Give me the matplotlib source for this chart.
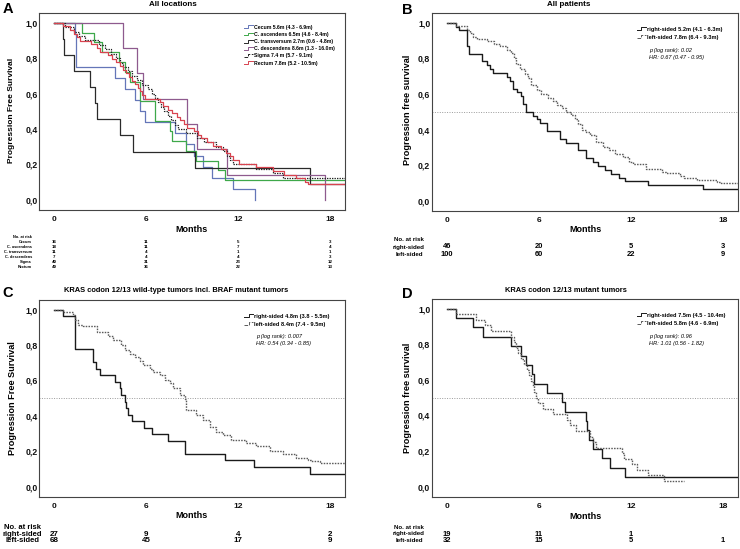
import matplotlib
matplotlib.use('Agg')
import matplotlib.pyplot as plt
from matplotlib import transforms
from matplotlib.lines import Line2D
from matplotlib.legend_handler import HandlerBase

plt.rcParams['font.family'] = ['Liberation Sans', 'DejaVu Sans']
plt.rcParams['font.weight'] = 'bold'

W, H = 740, 549

month_ticks = [0, 6, 12, 18]
surv_ticks = [0.0, 0.2, 0.4, 0.6, 0.8, 1.0]
surv_ticklabels = ['0,0', '0,2', '0,4', '0,6', '0,8', '1,0']

# ---------- A: all locations ----------
cecum_t = [0, 1.35, 1.45, 3.95, 4.6, 5.25, 5.6, 5.9, 7.9, 8.6, 9.1, 9.7, 10.3, 11.7, 13.1]
cecum_s = [1.0, 0.938, 0.75, 0.688, 0.625, 0.563, 0.5, 0.438, 0.375, 0.313, 0.25, 0.188, 0.125, 0.063, 0.0]
cecum_end = 13.1

asc_t = [0, 1.8, 2.6, 3.1, 4.2, 4.6, 4.95, 5.6, 6.55, 7.55, 7.7, 8.6, 9.25, 10.7, 11.15]
asc_s = [1.0, 0.944, 0.889, 0.833, 0.778, 0.722, 0.667, 0.556, 0.444, 0.389, 0.333, 0.278, 0.222, 0.167, 0.111]
asc_end = 19.5

trans_t = [0, 0.6, 0.65, 1.3, 2.35, 2.65, 2.8, 4.3, 5.15, 9.2, 16.7]
trans_s = [1.0, 0.909, 0.818, 0.727, 0.636, 0.545, 0.455, 0.364, 0.273, 0.182, 0.091]
trans_end = 19.5

desc_t = [0, 4.46, 5.42, 5.77, 8.65, 9.35, 11.3, 17.7]
desc_s = [1.0, 0.857, 0.714, 0.571, 0.429, 0.286, 0.143, 0.0]
desc_end = 17.7

sigma_t = [0, 0.7, 1.3, 1.6, 2.0, 2.9, 3.3, 3.7, 4.0, 4.3, 4.5, 4.8, 5.1, 5.4, 5.7, 6.1,
           6.4, 6.6, 6.8, 7.0, 7.2, 7.4, 7.6, 7.9, 8.1, 8.6, 9.3, 9.8, 10.6, 11.0, 11.3,
           11.5, 11.7, 13.2, 14.3, 14.95]
sigma_s = [1.0, 0.975, 0.95, 0.925, 0.9, 0.875, 0.85, 0.825, 0.8, 0.775, 0.75, 0.725, 0.7,
           0.675, 0.65, 0.625, 0.6, 0.575, 0.55, 0.525, 0.5, 0.475, 0.45, 0.425, 0.4, 0.375,
           0.35, 0.325, 0.3, 0.275, 0.25, 0.225, 0.2, 0.175, 0.15, 0.125]
sigma_end = 19.5

rect_t = [0, 0.6, 1.0, 1.3, 1.5, 1.7, 2.4, 2.8, 3.0, 3.5, 3.8, 4.0, 4.3, 4.5, 4.7, 4.9, 5.1,
          5.3, 5.5, 5.6, 5.7, 5.9, 6.9, 7.1, 7.4, 7.7, 8.0, 8.2, 8.5, 8.7, 9.1, 9.4, 9.6,
          10.0, 10.4, 10.9, 11.2, 11.5, 11.7, 12.1, 13.2, 14.3, 15.0, 15.8, 16.4, 16.6]
rect_s = [1.0, 0.98, 0.959, 0.939, 0.918, 0.898, 0.878, 0.857, 0.837, 0.816, 0.796, 0.776,
          0.755, 0.735, 0.714, 0.694, 0.673, 0.653, 0.633, 0.612, 0.592, 0.571, 0.551, 0.531,
          0.51, 0.49, 0.469, 0.449, 0.429, 0.408, 0.388, 0.367, 0.347, 0.327, 0.306, 0.286,
          0.265, 0.245, 0.224, 0.204, 0.184, 0.163, 0.143, 0.122, 0.102, 0.092]
rect_end = 19.5

loc_names = ['Cecum', 'C. ascendens', 'C. transversum', 'C. descendens', 'Sigma', 'Rectum']
loc_labels = ['Cecum 5.6m (4.3 - 6.9m)', 'C. ascendens 6.5m (4.6 - 8.4m)',
              'C. transversum 2.7m (0.6 - 4.8m)', 'C. descendens 8.6m (1.3 - 16.0m)',
              'Sigma 7.4 m (5.7 - 9.1m)', 'Rectum 7.8m (5.2 - 10.5m)']
loc_risk = [[16, 11, 5, 3], [18, 11, 7, 4], [11, 4, 1, 1], [7, 4, 4, 3],
            [40, 31, 23, 12], [49, 36, 22, 13]]

# ---------- B: all patients ----------
b_right_t = [0, 0.6, 0.75, 1.3, 1.45, 2.3, 2.6, 2.8, 3.0, 3.9, 4.1, 4.3, 4.6, 4.8, 4.95, 5.15,
             5.6, 5.85, 6.1, 6.5, 7.4, 7.75, 8.55, 9.05, 9.5, 9.85, 10.3, 10.7, 11.2, 11.65,
             13.1, 16.7]
b_right_s = [1.0, 0.978, 0.957, 0.87, 0.826, 0.783, 0.761, 0.739, 0.717, 0.696, 0.674, 0.63,
             0.609, 0.587, 0.543, 0.5, 0.478, 0.457, 0.435, 0.391, 0.348, 0.326, 0.283, 0.239,
             0.217, 0.196, 0.174, 0.152, 0.13, 0.109, 0.087, 0.065]
b_left_t = [0, 0.6, 1.3, 1.5, 1.7, 1.95, 2.6, 3.05, 3.45, 3.9, 4.2, 4.4, 4.5, 4.75, 5.1, 5.3,
            5.5, 5.85, 6.15, 6.6, 6.95, 7.2, 7.5, 7.75, 8.1, 8.35, 8.55, 8.8, 9.1, 9.35, 9.75,
            10.2, 10.6, 11.0, 11.5, 11.9, 12.15, 13.0, 14.05, 14.3, 15.2, 15.5, 16.3, 17.6, 17.9]
b_left_s = [1.0, 0.98, 0.96, 0.94, 0.92, 0.91, 0.9, 0.88, 0.87, 0.85, 0.83, 0.8, 0.77, 0.74,
            0.71, 0.69, 0.65, 0.62, 0.6, 0.58, 0.56, 0.54, 0.52, 0.5, 0.48, 0.46, 0.43, 0.4,
            0.385, 0.37, 0.33, 0.3, 0.285, 0.265, 0.245, 0.22, 0.205, 0.18, 0.163, 0.155, 0.14,
            0.13, 0.116, 0.107, 0.1]
b_labels = ['right-sided 5.2m (4.1 - 6.3m)', 'left-sided 7.8m (6.4 - 9.3m)']
b_stats = ['p (log rank): 0.02', 'HR: 0.67 (0.47 - 0.95)']
b_risk = [[46, 20, 5, 3], [100, 60, 22, 9]]

# ---------- C: KRAS wild-type ----------
c_right_t = [0, 0.6, 1.35, 2.55, 2.7, 3.0, 3.95, 4.3, 4.35, 4.6, 4.7, 4.82, 5.05, 5.85, 6.4,
             7.4, 8.55, 11.15, 13.05, 16.7]
c_right_s = [1.0, 0.963, 0.778, 0.704, 0.667, 0.63, 0.593, 0.556, 0.519, 0.481, 0.444, 0.407,
             0.37, 0.333, 0.296, 0.259, 0.185, 0.148, 0.111, 0.074]
c_left_t = [0, 0.6, 1.25, 1.35, 1.57, 1.9, 2.76, 3.5, 3.85, 4.35, 4.6, 4.94, 5.27, 5.6, 5.81,
            6.25, 6.47, 6.9, 7.23, 7.55, 7.77, 8.2, 8.53, 8.64, 9.29, 9.73, 10.16, 10.6, 11.03,
            11.58, 12.56, 13.2, 14.08, 14.95, 15.82, 16.58, 16.8, 17.34]
c_left_s = [1.0, 0.985, 0.97, 0.94, 0.916, 0.906, 0.873, 0.853, 0.83, 0.8, 0.77, 0.75, 0.73,
            0.71, 0.685, 0.665, 0.648, 0.63, 0.6, 0.583, 0.555, 0.517, 0.498, 0.433, 0.404,
            0.376, 0.339, 0.311, 0.292, 0.264, 0.249, 0.227, 0.204, 0.185, 0.161, 0.152, 0.142,
            0.135]
c_labels = ['right-sided 4.8m (3.8 - 5.5m)', 'left-sided 8.4m (7.4 - 9.5m)']
c_stats = ['p (log rank): 0.007', 'HR: 0.54 (0.34 - 0.85)']
c_risk = [[27, 9, 4, 2], [68, 45, 17, 9]]

# ---------- D: KRAS mutant ----------
d_right_t = [0, 0.6, 1.7, 2.35, 4.2, 4.85, 5.15, 5.55, 5.65, 6.5, 7.5, 7.7, 9.1, 9.15, 9.3,
             9.55, 10.15, 10.65, 11.6]
d_right_s = [1.0, 0.947, 0.895, 0.842, 0.789, 0.737, 0.684, 0.632, 0.579, 0.526, 0.474, 0.421,
             0.368, 0.316, 0.263, 0.211, 0.158, 0.105, 0.053]
d_left_t = [0, 0.6, 1.9, 2.45, 2.9, 4.2, 4.35, 4.5, 4.65, 4.85, 5.05, 5.2, 5.35, 5.5, 5.6, 5.7,
            5.8, 5.95, 6.3, 6.95, 7.85, 8.0, 8.4, 9.35, 9.5, 9.7, 11.4, 11.55, 12.1, 12.4,
            13.1, 14.2]
d_left_s = [1.0, 0.969, 0.938, 0.906, 0.875, 0.844, 0.813, 0.781, 0.75, 0.719, 0.688, 0.656,
            0.625, 0.594, 0.563, 0.531, 0.5, 0.469, 0.438, 0.406, 0.375, 0.344, 0.313, 0.281,
            0.25, 0.219, 0.188, 0.156, 0.125, 0.094, 0.063, 0.031]
d_left_end = 15.5
d_labels = ['right-sided 7.5m (4.5 - 10.4m)', 'left-sided 5.8m (4.6 - 6.9m)']
d_stats = ['p (log rank): 0.96', 'HR: 1.01 (0.56 - 1.82)']
d_risk = [[19, 11, 1], [32, 15, 5, 1]]

side_names = ['right-sided', 'left-sided']

DOTS = (0, (1.1, 0.9))   # fine SPSS-like dotted line


def fx(px):
    return px / W


def fy(py):
    return 1 - py / H


class StepHandle(HandlerBase):
    # small step glyph like the SPSS legend
    def create_artists(self, legend, orig_handle, xdescent, ydescent, width, height,
                       fontsize, trans):
        x0, y0 = -xdescent, -ydescent
        xm = x0 + 0.5 * width
        ln = Line2D([x0, xm, xm, x0 + width],
                    [y0 + 0.15 * height, y0 + 0.15 * height, y0 + 0.95 * height, y0 + 0.95 * height],
                    color=orig_handle.get_color(), linestyle=orig_handle.get_linestyle(),
                    linewidth=0.7, transform=trans)
        return [ln]


def km(ax, t, s, end, **kw):
    return ax.step(list(t) + [end], list(s) + [s[-1]], where='post', **kw)[0]


def setup(ax):
    ax.set_xlim(-1, 19)
    ax.set_ylim(-0.057, 1.055)
    ax.set_xticks(month_ticks)
    ax.set_yticks(surv_ticks)
    ax.set_yticklabels(surv_ticklabels)
    ax.tick_params(axis='y', length=0, pad=1.0, labelsize=6.3, colors='#111111')
    ax.tick_params(axis='x', length=0, pad=4.5, labelsize=6, colors='#111111')
    for sp in ax.spines.values():
        sp.set_color('#444444')
        sp.set_linewidth(0.8)


def at_risk(fig, ax, names, rows, label_x, label_ha, ys, lab_size, val_size):
    tr = transforms.blended_transform_factory(ax.transData, fig.transFigure)
    fig.text(fx(label_x), fy(ys[0]), 'No. at risk', ha=label_ha, va='center', fontsize=lab_size)
    for name, row, y in zip(names, rows, ys[1:]):
        fig.text(fx(label_x), fy(y), name, ha=label_ha, va='center', fontsize=lab_size)
        for m, n in zip(month_ticks, row):
            ax.text(m, fy(y), str(n), transform=tr, ha='center', va='center', fontsize=val_size)


fig = plt.figure(figsize=(7.4, 5.49), dpi=100)

axA = fig.add_axes([fx(39), fy(210), fx(306), 197 / H])
axB = fig.add_axes([fx(431.7), fy(211), fx(306.3), 198 / H])
axC = fig.add_axes([fx(39), fy(496.7), fx(306), 196.7 / H])
axD = fig.add_axes([fx(431.7), fy(496.7), fx(306.3), 197.7 / H])
for ax in (axA, axB, axC, axD):
    setup(ax)

solid_kw = dict(color='#1a1a1a', lw=1.0)
dot_kw = dict(color='#5a5a5a', lw=1.0, linestyle=DOTS)

# --- panel A
hA = [
    km(axA, cecum_t, cecum_s, cecum_end, color='#6476b8', lw=0.9),
    km(axA, asc_t, asc_s, asc_end, color='#3ea84a', lw=0.9),
    km(axA, trans_t, trans_s, trans_end, color='#2a2a2a', lw=0.9),
    km(axA, desc_t, desc_s, desc_end, color='#8e5a8e', lw=0.9),
    km(axA, sigma_t, sigma_s, sigma_end, color='#222222', lw=0.9, linestyle=DOTS),
    km(axA, rect_t, rect_s, rect_end, color='#d8434f', lw=0.9),
]
axA.legend(hA, loc_labels, loc='upper left', bbox_to_anchor=(0.67, 0.94), frameon=False,
           fontsize=3.7, handlelength=1.7, handletextpad=0.15, labelspacing=0.42,
           borderpad=0, borderaxespad=0, handler_map={Line2D: StepHandle()})

# --- panels B, C, D
for ax, rt, rs, lt, ls, lend, labels, stats in [
        (axB, b_right_t, b_right_s, b_left_t, b_left_s, 19.5, b_labels, b_stats),
        (axC, c_right_t, c_right_s, c_left_t, c_left_s, 19.5, c_labels, c_stats),
        (axD, d_right_t, d_right_s, d_left_t, d_left_s, d_left_end, d_labels, d_stats)]:
    ax.axhline(0.5, color='#9a9a9a', lw=0.7, linestyle=(0, (1, 1.5)))
    h1 = km(ax, rt, rs, 19.5, **solid_kw)
    h2 = km(ax, lt, ls, lend, **dot_kw)
    ax.legend([h1, h2], labels, loc='upper left', bbox_to_anchor=(0.67, 0.93), frameon=False,
              fontsize=4.1, handlelength=1.6, handletextpad=0.1, labelspacing=0.55,
              borderpad=0, borderaxespad=0, handler_map={Line2D: StepHandle()})
    ax.text(0.71, 0.812, stats[0], transform=ax.transAxes, fontsize=4.1, style='italic',
            weight='normal', va='center')
    ax.text(0.71, 0.777, stats[1], transform=ax.transAxes, fontsize=4.1, style='italic',
            weight='normal', va='center')

# --- titles, letters, axis labels
fig.text(fx(8), fy(9), 'A', fontsize=10.5, ha='center', va='center')
fig.text(fx(407), fy(9.5), 'B', fontsize=10.5, ha='center', va='center')
fig.text(fx(8), fy(293), 'C', fontsize=10.5, ha='center', va='center')
fig.text(fx(407), fy(294.5), 'D', fontsize=10.5, ha='center', va='center')

fig.text(fx(173), fy(5), 'All locations', fontsize=5.8, ha='center', va='center')
fig.text(fx(569), fy(5), 'All patients', fontsize=5.8, ha='center', va='center')
fig.text(fx(176.5), fy(290), 'KRAS codon 12/13 wild-type tumors incl. BRAF mutant tumors',
         fontsize=5.4, ha='center', va='center')
fig.text(fx(566), fy(291), 'KRAS codon 12/13 mutant tumors', fontsize=5.4,
         ha='center', va='center')

fig.text(fx(12), fy(110), 'Progression Free Survival', fontsize=6, rotation=90,
         ha='center', va='center')
fig.text(fx(408), fy(110), 'Progression free survival', fontsize=6.6, rotation=90,
         ha='center', va='center')
fig.text(fx(13), fy(398), 'Progression Free Survival', fontsize=6.6, rotation=90,
         ha='center', va='center')
fig.text(fx(408), fy(398), 'Progression free survival', fontsize=6.6, rotation=90,
         ha='center', va='center')

fig.text(fx(192), fy(230), 'Months', fontsize=6.5, ha='center', va='center')
fig.text(fx(585), fy(230), 'Months', fontsize=6.5, ha='center', va='center')
fig.text(fx(192), fy(515.7), 'Months', fontsize=6.5, ha='center', va='center')
fig.text(fx(585), fy(516.7), 'Months', fontsize=6.5, ha='center', va='center')

# --- numbers at risk
at_risk(fig, axA, loc_names, loc_risk, 32, 'right',
        [237.3, 242.3, 247.3, 252.3, 257, 262.3, 267], 2.8, 3.2)
at_risk(fig, axB, side_names, b_risk, 409, 'center', [239.7, 247, 254.3], 4.4, 5.4)
at_risk(fig, axC, side_names, c_risk, 22, 'center', [527.3, 534, 540.7], 5.5, 5.8)
at_risk(fig, axD, side_names, d_risk, 409, 'center', [527.3, 534, 540.7], 4.4, 5.4)

fig.savefig('out.png', dpi=100)
